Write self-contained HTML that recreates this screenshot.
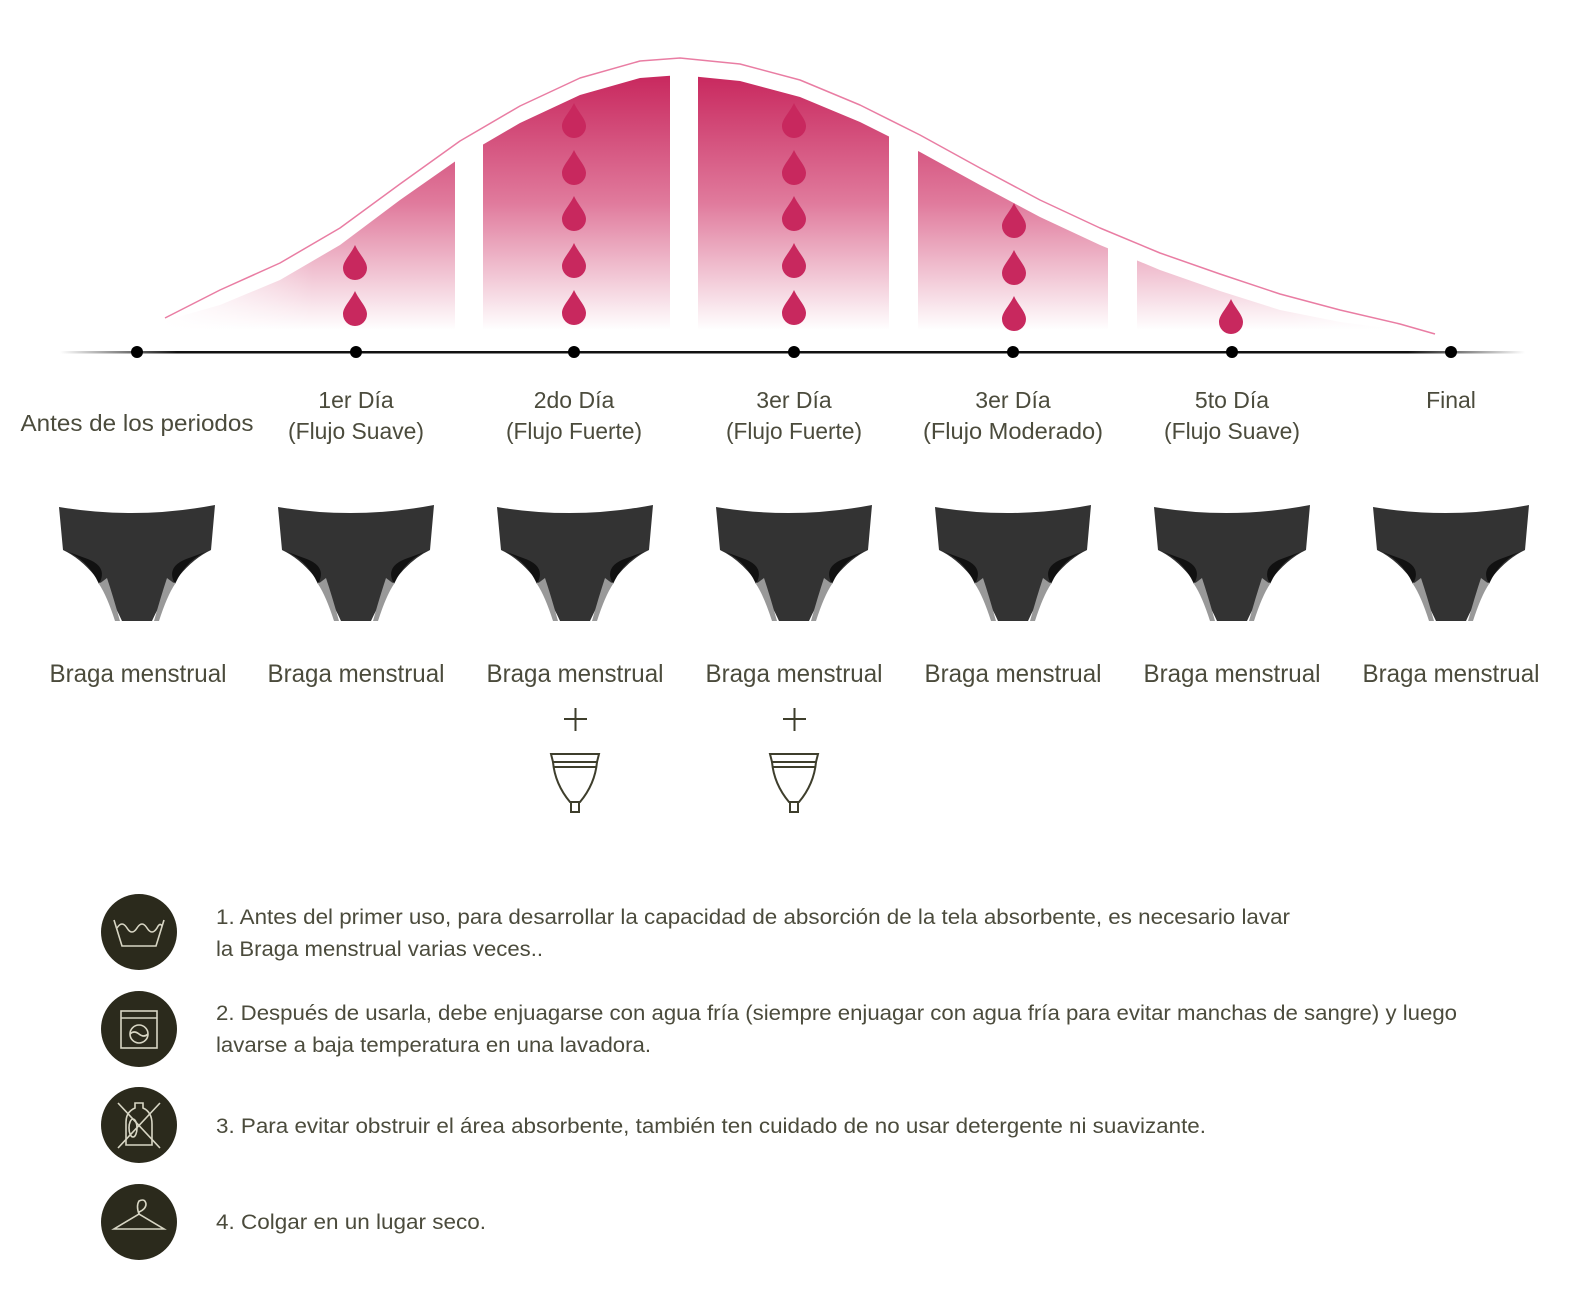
<!DOCTYPE html>
<html><head><meta charset="utf-8"><style>html,body{margin:0;padding:0;background:#fff}svg{display:block}</style></head>
<body>
<svg width="1580" height="1300" viewBox="0 0 1580 1300" xmlns="http://www.w3.org/2000/svg" font-family="Liberation Sans, sans-serif">
<defs>
<linearGradient id="g" x1="0" y1="75" x2="0" y2="330" gradientUnits="userSpaceOnUse">
<stop offset="0" stop-color="#c8285e"/><stop offset="0.5" stop-color="#e07a9c"/><stop offset="1" stop-color="#fff"/>
</linearGradient>
<linearGradient id="tl" x1="60" y1="0" x2="1525" y2="0" gradientUnits="userSpaceOnUse">
<stop offset="0" stop-color="#111" stop-opacity="0"/><stop offset="0.08" stop-color="#111"/><stop offset="0.92" stop-color="#111"/><stop offset="1" stop-color="#111" stop-opacity="0"/>
</linearGradient>
<linearGradient id="lf" x1="160" y1="0" x2="1440" y2="0" gradientUnits="userSpaceOnUse">
<stop offset="0" stop-color="#fff" stop-opacity="1"/><stop offset="0.12" stop-color="#fff" stop-opacity="0"/><stop offset="0.88" stop-color="#fff" stop-opacity="0"/><stop offset="1" stop-color="#fff" stop-opacity="1"/>
</linearGradient>
<path id="drop" d="M0,-17 C4,-8 12,-1 12,6 A12,12 0 0 1 -12,6 C-12,-1 -4,-8 0,-17Z" fill="#c8285e"/>
<g id="panty">
<path d="M-78,1 Q0,14 78,-1 L74,44 Q40,60 15,115 L-15,115 Q-40,60 -74,44 Z" fill="#333"/>
<path d="M-74,44 Q-50,52 -38,78 Q-28,60 -52,52 Z" fill="#111"/>
<path d="M74,44 Q50,52 38,78 Q28,60 52,52 Z" fill="#111"/>
<path d="M-38,78 Q-30,90 -22,115 L-17,115 Q-24,90 -30,72 Z" fill="#999"/>
<path d="M38,78 Q30,90 22,115 L17,115 Q24,90 30,72 Z" fill="#999"/>
</g>
<g id="cup" fill="none" stroke="#3e3e2c" stroke-width="2">
<path d="M-24,0 H24 L22,8 H-22 Z"/>
<path d="M-22,8 Q-20,30 -5,48 H5 Q20,30 22,8"/>
<path d="M-22,13 H22"/>
<rect x="-4" y="48" width="8" height="10"/>
</g>
</defs>

<!-- bell fill -->
<path d="M160,330 L160,322 220,305 280,280 340,245 400,200 460,158 520,123 580,95 640,78 680,75 740,81 800,97 860,122 920,152 980,185 1040,217 1100,245 1160,270 1220,291 1280,310 1340,322 1400,330 1440,332 L1440,332 Z" fill="url(#g)"/>
<rect x="150" y="60" width="1300" height="280" fill="url(#lf)"/>
<!-- gaps -->
<g fill="#fff">
<rect x="455" y="50" width="28" height="290"/>
<rect x="670" y="50" width="28" height="290"/>
<rect x="889" y="50" width="29" height="290"/>
<rect x="1108" y="50" width="29" height="290"/>
</g>
<!-- outer curve -->
<polyline points="165,318 220,290 280,263 340,228 400,184 460,141 520,106 580,78 640,61 680,58 740,64 800,80 860,105 920,135 980,168 1040,200 1100,228 1160,253 1220,274 1280,294 1340,310 1400,324 1435,334" fill="none" stroke="#e35d8c" stroke-width="1.5" stroke-linejoin="round" opacity="0.8"/>

<!-- drops -->
<use href="#drop" x="355" y="262"/><use href="#drop" x="355" y="308"/>
<use href="#drop" x="574" y="120"/><use href="#drop" x="574" y="167"/><use href="#drop" x="574" y="213"/><use href="#drop" x="574" y="260"/><use href="#drop" x="574" y="307"/>
<use href="#drop" x="794" y="120"/><use href="#drop" x="794" y="167"/><use href="#drop" x="794" y="213"/><use href="#drop" x="794" y="260"/><use href="#drop" x="794" y="307"/>
<use href="#drop" x="1014" y="220"/><use href="#drop" x="1014" y="267"/><use href="#drop" x="1014" y="313"/>
<use href="#drop" x="1231" y="316"/>

<!-- timeline -->
<rect x="60" y="351" width="1465" height="2.5" fill="url(#tl)"/>
<g fill="#000">
<circle cx="137" cy="352" r="6"/><circle cx="356" cy="352" r="6"/><circle cx="574" cy="352" r="6"/><circle cx="794" cy="352" r="6"/><circle cx="1013" cy="352" r="6"/><circle cx="1232" cy="352" r="6"/><circle cx="1451" cy="352" r="6"/>
</g>

<!-- labels -->
<g fill="#4b4b3c" font-size="23" text-anchor="middle">
<text x="137" y="431" textLength="233" lengthAdjust="spacingAndGlyphs">Antes de los periodos</text>
<text x="356" y="408">1er Día</text><text x="356" y="439" textLength="136" lengthAdjust="spacingAndGlyphs">(Flujo Suave)</text>
<text x="574" y="408">2do Día</text><text x="574" y="439" textLength="136" lengthAdjust="spacingAndGlyphs">(Flujo Fuerte)</text>
<text x="794" y="408">3er Día</text><text x="794" y="439" textLength="136" lengthAdjust="spacingAndGlyphs">(Flujo Fuerte)</text>
<text x="1013" y="408">3er Día</text><text x="1013" y="439" textLength="180" lengthAdjust="spacingAndGlyphs">(Flujo Moderado)</text>
<text x="1232" y="408">5to Día</text><text x="1232" y="439" textLength="136" lengthAdjust="spacingAndGlyphs">(Flujo Suave)</text>
<text x="1451" y="408">Final</text>
</g>

<!-- panties -->
<use href="#panty" x="137" y="506"/><use href="#panty" x="356" y="506"/><use href="#panty" x="575" y="506"/><use href="#panty" x="794" y="506"/><use href="#panty" x="1013" y="506"/><use href="#panty" x="1232" y="506"/><use href="#panty" x="1451" y="506"/>

<g fill="#4b4b3c" font-size="25" text-anchor="middle">
<text x="138" y="682" textLength="177" lengthAdjust="spacingAndGlyphs">Braga menstrual</text>
<text x="356" y="682" textLength="177" lengthAdjust="spacingAndGlyphs">Braga menstrual</text>
<text x="575" y="682" textLength="177" lengthAdjust="spacingAndGlyphs">Braga menstrual</text>
<text x="794" y="682" textLength="177" lengthAdjust="spacingAndGlyphs">Braga menstrual</text>
<text x="1013" y="682" textLength="177" lengthAdjust="spacingAndGlyphs">Braga menstrual</text>
<text x="1232" y="682" textLength="177" lengthAdjust="spacingAndGlyphs">Braga menstrual</text>
<text x="1451" y="682" textLength="177" lengthAdjust="spacingAndGlyphs">Braga menstrual</text>
</g>
<g stroke="#3e3e2c" stroke-width="2">
<path d="M564,719 H587 M575.5,708 V731"/><path d="M783,719 H806 M794.5,708 V731"/>
</g>
<use href="#cup" x="575" y="754"/><use href="#cup" x="794" y="754"/>

<!-- icons -->
<g fill="#2b2a1c">
<circle cx="139" cy="932" r="38"/><circle cx="139" cy="1029" r="38"/><circle cx="139" cy="1125" r="38"/><circle cx="139" cy="1222" r="38"/>
</g>
<g fill="none" stroke="#d8d6c4" stroke-width="1.6">
<path d="M114,920 L122,946 H156 L164,920"/>
<path d="M117,928 Q122,920 127,928 Q132,936 137,928 Q142,920 147,928 Q152,936 157,928 Q160,922 162,926"/>
<rect x="121" y="1011" width="36" height="37"/><path d="M121,1018 H157"/><circle cx="139" cy="1034" r="9"/><path d="M130,1034 Q134,1030 139,1034 Q144,1038 148,1034"/>
<path d="M135,1103 H143 V1108 Q152,1112 152,1124 V1145 H126 V1122 Q126,1112 135,1108 Z"/><ellipse cx="133" cy="1128" rx="4" ry="9"/>
<path d="M118,1103 L160,1148 M160,1103 L118,1148"/>
<path d="M139,1214 Q136,1206 139,1201 Q145,1198 146,1204 Q146,1209 139,1212 V1214 L164,1229 H114 Z"/>
</g>

<!-- instructions -->
<g fill="#4b4b3c" font-size="21">
<text x="216" y="924" textLength="1074" lengthAdjust="spacingAndGlyphs">1. Antes del primer uso, para desarrollar la capacidad de absorción de la tela absorbente, es necesario lavar</text>
<text x="216" y="956" textLength="327" lengthAdjust="spacingAndGlyphs">la Braga menstrual varias veces..</text>
<text x="216" y="1020" textLength="1241" lengthAdjust="spacingAndGlyphs">2. Después de usarla, debe enjuagarse con agua fría (siempre enjuagar con agua fría para evitar manchas de sangre) y luego</text>
<text x="216" y="1052" textLength="435" lengthAdjust="spacingAndGlyphs">lavarse a baja temperatura en una lavadora.</text>
<text x="216" y="1133" textLength="990" lengthAdjust="spacingAndGlyphs">3. Para evitar obstruir el área absorbente, también ten cuidado de no usar detergente ni suavizante.</text>
<text x="216" y="1229" textLength="270" lengthAdjust="spacingAndGlyphs">4. Colgar en un lugar seco.</text>
</g>
</svg>
</body></html>
